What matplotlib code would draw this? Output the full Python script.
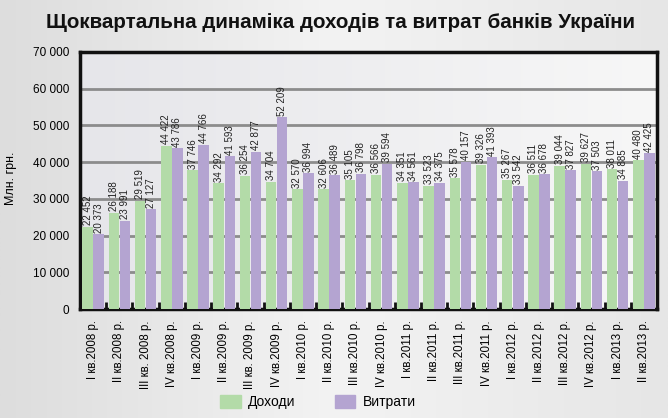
import numpy as np
import matplotlib
matplotlib.use("Agg")
import matplotlib.pyplot as plt
from matplotlib.patches import Patch
from matplotlib.colors import LinearSegmentedColormap

categories = ["I кв.2008 р.", "II кв.2008 р.", "III кв. 2008 р.", "IV кв.2008 р.",
              "I кв.2009 р.", "II кв.2009 р.", "III кв. 2009 р.", "IV кв.2009 р.",
              "I кв.2010 р.", "II кв.2010 р.", "III кв.2010 р.", "IV кв.2010 р.",
              "I кв.2011 р.", "II кв.2011 р.", "III кв.2011 р.", "IV кв.2011 р.",
              "I кв.2012 р.", "II кв.2012 р.", "III кв.2012 р.", "IV кв.2012 р.",
              "I кв.2013 р.", "II кв.2013 р."]
income = [22452, 26188, 29519, 44422, 37746, 34292, 36254, 34704, 32570, 32606, 35105,
          36566, 34351, 33523, 35578, 39326, 35267, 36511, 39044, 39627, 38011, 40480]
expenses = [20373, 23991, 27127, 43786, 44766, 41593, 42877, 52209, 36994, 36489, 36798,
            39594, 34561, 34375, 40157, 41393, 33542, 36678, 37827, 37503, 34885, 42425]
yticks = [0, 10000, 20000, 30000, 40000, 50000, 60000, 70000]

def fmt(v):
    return f"{v:,}".replace(",", " ")

W, H = 668, 418
fig = plt.figure(figsize=(W/100, H/100), dpi=100)

bg = fig.add_axes([0, 0, 1, 1], zorder=-10)
grad = np.linspace(0, 1, 256).reshape(1, -1)
cm_bg = LinearSegmentedColormap.from_list("bg", ["#dddddd", "#f3f3f3", "#e6e6e6"])
bg.imshow(grad, aspect="auto", cmap=cm_bg, extent=[0, 1, 0, 1])
bg.set_axis_off()

font = "Liberation Sans"

left, right, top, bottom = 80, 657, 52, 309
ax = fig.add_axes([left/W, 1-bottom/H, (right-left)/W, (bottom-top)/H])
cm_ax = LinearSegmentedColormap.from_list("ax", ["#e6e6ea", "#f7f7f7"])
n = len(categories)
ax.imshow(grad, aspect="auto", cmap=cm_ax, extent=[-0.5, n-0.5, 0, 70000], zorder=0)

x = np.arange(n)
w = 0.4
green = "#b3dba8"
purple = "#b4a4d1"
ax.bar(x - w/2 - 0.01, income, width=w, color=green, zorder=3)
ax.bar(x + w/2 + 0.01, expenses, width=w, color=purple, zorder=3)

for i in range(n):
    ax.text(x[i] - w/2 - 0.01, income[i] + 400, fmt(income[i]), rotation=90, ha="center",
            va="bottom", fontsize=7, family=font, color="#222222", zorder=4)
    ax.text(x[i] + w/2 + 0.01, expenses[i] + 400, fmt(expenses[i]), rotation=90, ha="center",
            va="bottom", fontsize=7, family=font, color="#222222", zorder=4)

ax.set_xlim(-0.5, n - 0.5)
ax.set_ylim(0, 70000)
for yv in yticks[1:-1]:
    ax.axhline(yv, color="#8c8c8c", lw=2, zorder=1)
ax.set_yticks(yticks)
ax.set_yticklabels([fmt(v) for v in yticks], family=font, fontsize=8.5)
ax.tick_params(axis="y", length=0, pad=8)
ax.set_xticks(x)
ax.set_xticklabels(categories, rotation=90, family=font, fontsize=8.3)
ax.tick_params(axis="x", length=0, pad=8)
ax.set_xticks(np.arange(n - 1) + 0.5, minor=True)
ax.tick_params(axis="x", which="minor", direction="in", length=5, width=2, color="#111111")
for s in ax.spines.values():
    s.set_linewidth(2.5)
    s.set_color("#111111")

fig.text(340/W, 1 - 22/H, "Щоквартальна динаміка доходів та витрат банків України",
         ha="center", va="center", fontsize=14.8, fontweight="bold", family=font, color="#111111")
fig.text(11/W, 1 - 178/H, "Млн. грн.", rotation=90, ha="center", va="center",
         family=font, fontsize=9)

handles = [Patch(color=green, label="Доходи"), Patch(color=purple, label="Витрати")]
fig.legend(handles=handles, loc="center", bbox_to_anchor=(318/W, 1 - 402/H), ncol=2,
           frameon=False, prop={"family": font, "size": 10}, handlelength=1.5,
           handleheight=1.1, columnspacing=2.8, handletextpad=0.5)

fig.savefig("out.png", dpi=100)
